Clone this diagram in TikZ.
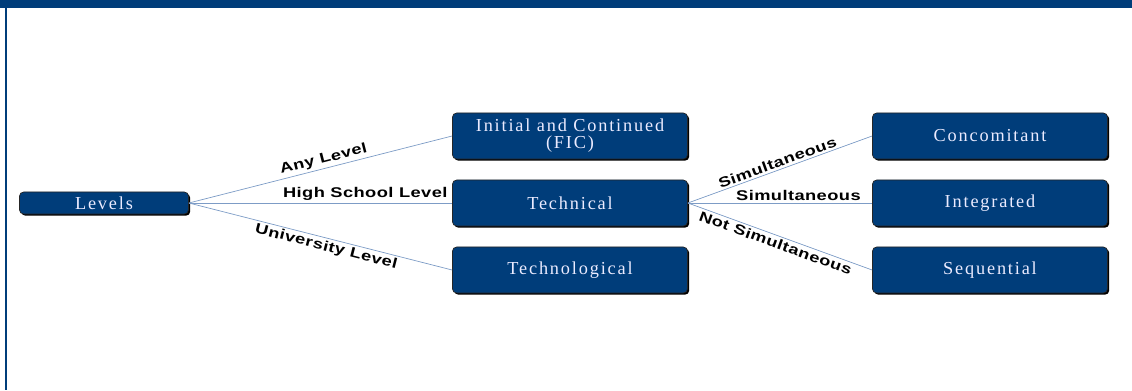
\documentclass[tikz,border=0pt]{standalone}
\usepackage{fontspec}
\usepackage{tikz}
\usetikzlibrary{shadows}
\newfontfamily\boxfont[LetterSpace=10]{Liberation Serif}
\newfontfamily\labelfont[FakeStretch=1.3,LetterSpace=3]{Liberation Sans Bold}
\definecolor{boxblue}{HTML}{003D7A}
\definecolor{edgeblue}{HTML}{7D9CC6}

\begin{document}
\begin{tikzpicture}[x=0.025cm, y=0.025cm,
    levelbox/.style={draw=black!85, line width=0.5pt, fill=boxblue, rounded corners=3pt,
        text=white!92!blue, font=\boxfont\fontsize{13}{12}\selectfont, align=center,
        inner sep=0pt, minimum width=5.875cm, minimum height=1.15cm,
        drop shadow={shadow xshift=1.2pt, shadow yshift=-1.2pt, fill=black, opacity=1}},
    link/.style={draw=edgeblue, line width=0.5pt},
    linklabel/.style={font=\labelfont\fontsize{10}{10}\selectfont, text=black, inner sep=1.5pt}]
    \useasboundingbox (0,0) rectangle (1132,390);
    % frame
    \fill[boxblue] (0,382) rectangle (1132,390);
    \fill[boxblue] (5,0) rectangle (7,390);

    \node[levelbox, minimum width=4.225cm, minimum height=0.55cm] (Levels) at (104,187) {Levels};
    \node[levelbox] (FIC) at (570,254) {Initial and Continued\\(FIC)};
    \node[levelbox] (Technical) at (570,187) {Technical};
    \node[levelbox] (Technological) at (570,120) {Technological};
    \node[levelbox] (Concomitant) at (990,254) {Concomitant};
    \node[levelbox] (Integrated) at (990,187) {Integrated};
    \node[levelbox] (Sequential) at (990,120) {Sequential};

    \draw[link] (Levels.east) -- node[linklabel, pos=0.52, above, sloped] {Any Level} (FIC.west);
    \draw[link] (Levels.east) -- node[linklabel, pos=0.67, above] {High School Level} (Technical.west);
    \draw[link] (Levels.east) -- node[linklabel, pos=0.53, below, sloped] {University Level} (Technological.west);
    \draw[link] (Technical.east) -- node[linklabel, pos=0.5, above, sloped] {Simultaneous} (Concomitant.west);
    \draw[link] (Technical.east) -- node[linklabel, pos=0.6, above] {Simultaneous} (Integrated.west);
    \draw[link] (Technical.east) -- node[linklabel, pos=0.49, below, sloped] {Not Simultaneous} (Sequential.west);
\end{tikzpicture}
\end{document}
